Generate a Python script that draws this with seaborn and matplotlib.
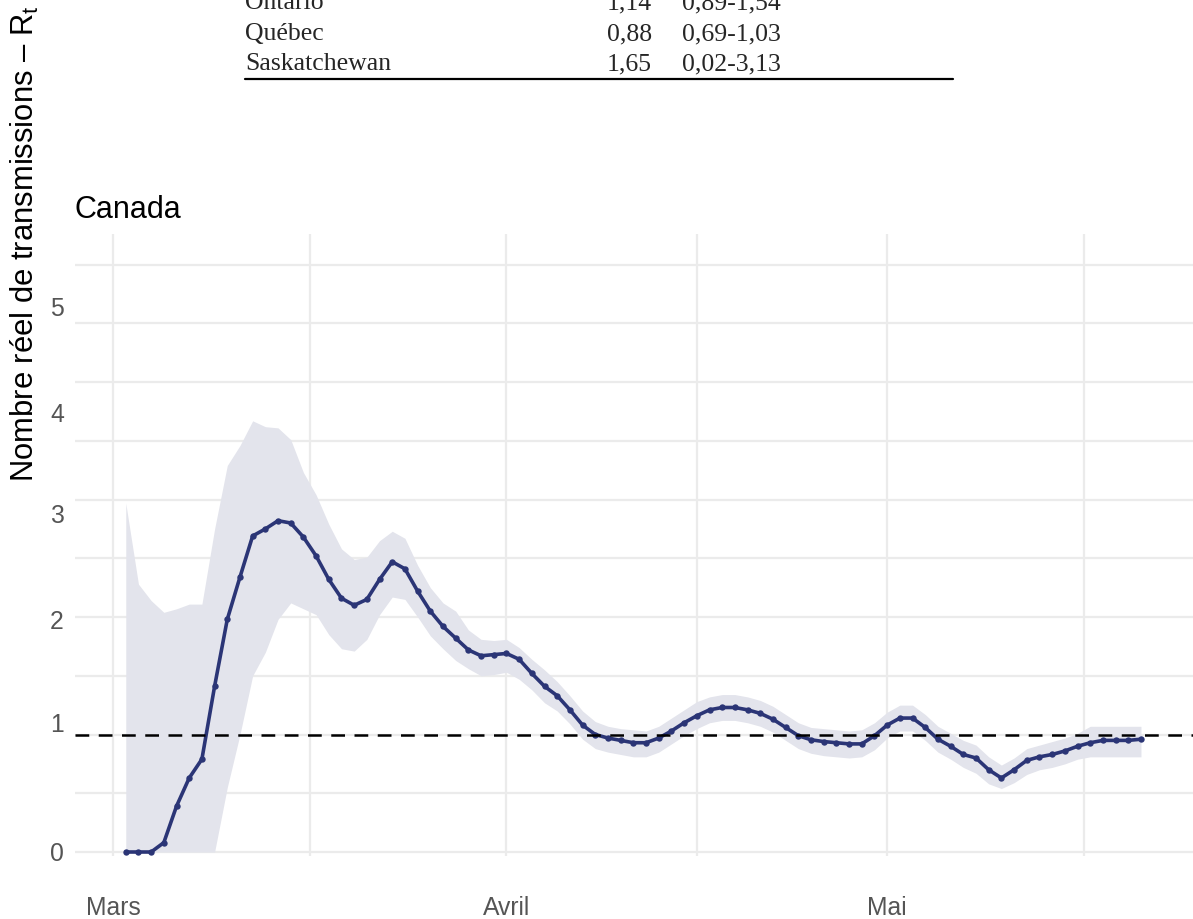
import matplotlib
matplotlib.use("Agg")
import matplotlib.pyplot as plt
import matplotlib.dates as mdates
import seaborn as sns
import pandas as pd

# ---------------- data ----------------
start_date = "2020-03-02"
rt = [0.00, 0.00, 0.00, 0.08, 0.39, 0.63, 0.79, 1.41, 1.98, 2.34,
      2.69, 2.75, 2.82, 2.80, 2.68, 2.52, 2.32, 2.16, 2.10, 2.15,
      2.32, 2.47, 2.41, 2.22, 2.05, 1.92, 1.82, 1.72, 1.67, 1.68,
      1.69, 1.64, 1.52, 1.41, 1.33, 1.21, 1.08, 1.00, 0.97, 0.95,
      0.93, 0.93, 0.97, 1.03, 1.10, 1.16, 1.21, 1.23, 1.23, 1.21,
      1.18, 1.13, 1.06, 0.99, 0.955, 0.94, 0.93, 0.92, 0.92, 0.99,
      1.08, 1.14, 1.14, 1.06, 0.96, 0.90, 0.83, 0.80, 0.70, 0.63,
      0.70, 0.78, 0.81, 0.83, 0.86, 0.90, 0.93, 0.95, 0.95, 0.95,
      0.96]
rt_upper = [2.97, 2.28, 2.14, 2.04, 2.07, 2.11, 2.11, 2.75, 3.29, 3.46,
            3.67, 3.62, 3.61, 3.51, 3.23, 3.04, 2.79, 2.58, 2.49, 2.51,
            2.65, 2.73, 2.67, 2.44, 2.25, 2.12, 2.05, 1.89, 1.81, 1.80,
            1.81, 1.74, 1.64, 1.55, 1.45, 1.33, 1.20, 1.11, 1.07, 1.05,
            1.04, 1.03, 1.07, 1.14, 1.21, 1.28, 1.32, 1.34, 1.34, 1.32,
            1.29, 1.24, 1.17, 1.10, 1.06, 1.05, 1.04, 1.03, 1.04, 1.10,
            1.19, 1.25, 1.25, 1.17, 1.07, 1.01, 0.95, 0.91, 0.81, 0.74,
            0.80, 0.88, 0.91, 0.94, 0.97, 1.01, 1.07, 1.07, 1.07, 1.07,
            1.07]
rt_lower = [0.00, 0.00, 0.00, 0.00, 0.00, 0.00, 0.00, 0.00, 0.55, 1.00,
            1.50, 1.70, 1.98, 2.12, 2.07, 2.02, 1.85, 1.73, 1.71, 1.81,
            2.02, 2.17, 2.15, 2.00, 1.84, 1.73, 1.63, 1.56, 1.50, 1.51,
            1.53, 1.47, 1.38, 1.27, 1.20, 1.09, 0.96, 0.88, 0.85, 0.83,
            0.81, 0.81, 0.85, 0.92, 0.99, 1.05, 1.10, 1.12, 1.12, 1.10,
            1.07, 1.02, 0.95, 0.88, 0.84, 0.82, 0.81, 0.80, 0.81, 0.87,
            0.97, 1.03, 1.03, 0.95, 0.85, 0.79, 0.72, 0.67, 0.58, 0.54,
            0.59, 0.66, 0.70, 0.72, 0.75, 0.79, 0.81, 0.81, 0.81, 0.81,
            0.81]

month_ticks = ["2020-03-01", "2020-04-01", "2020-05-01"]
month_labels = ["Mars", "Avril", "Mai"]
mid_month_grid = ["2020-03-16 12:00", "2020-04-16 00:00", "2020-05-16 12:00"]
ytick_labels = ["0", "1", "2", "3", "4", "5"]
ytick_label_pos = [0.01, 1.11, 1.99, 2.89, 3.75, 4.65]
ygrid = [0, 0.5, 1, 1.5, 2, 2.5, 3, 3.5, 4, 4.5, 5]
threshold = 1.0

table_names = ["Ontario", "Québec", "Saskatchewan"]
table_rt = ["1,14", "0,88", "1,65"]
table_ci = ["0,89-1,54", "0,69-1,03", "0,02-3,13"]

title = "Canada"
ylabel = "Nombre réel de transmissions – R$_\\mathrm{t}$"

# ---------------- plot ----------------
sns.set_style("white")
plt.rcParams["font.family"] = ["Liberation Sans", "DejaVu Sans"]
plt.rcParams["mathtext.fontset"] = "custom"
plt.rcParams["mathtext.rm"] = "Liberation Sans"

df = pd.DataFrame({
    "date": pd.date_range(start_date, periods=len(rt), freq="D"),
    "rt": rt, "lo": rt_lower, "hi": rt_upper,
})

W, H = 1193, 920
fig = plt.figure(figsize=(W / 100, H / 100), dpi=100)
ax = fig.add_axes([75 / W, 1 - 857 / H, 1 - 75 / W, (857 - 235) / H])

line_color = "#2b3576"
band_color = "#e3e4ec"
grid_color = "#ebebeb"

ax.fill_between(df["date"], df["lo"], df["hi"], color=band_color, lw=0, zorder=1)
sns.lineplot(data=df, x="date", y="rt", ax=ax, color=line_color, lw=2.6,
             marker="o", markersize=4.6, markeredgewidth=0, zorder=4)
ax.axhline(threshold, color="black", lw=1.8, ls=(0, (5.5, 3.8)), zorder=5)

base = mdates.date2num(pd.Timestamp("2020-03-01"))
ax.set_xlim(base - 3.0, base + 85.1)
ax.set_ylim(-0.034, 5.26)

# gridlines
for g in ygrid:
    ax.axhline(g, color=grid_color, lw=1.6, zorder=0)
for d in month_ticks + mid_month_grid:
    ax.axvline(pd.Timestamp(d), color=grid_color, lw=1.6, zorder=0)

ax.set_xticks([pd.Timestamp(d) for d in month_ticks])
ax.set_xticklabels(month_labels)
ax.set_yticks(ytick_label_pos)
ax.set_yticklabels(ytick_labels)
ax.tick_params(axis="x", length=0, pad=28, labelsize=17.8, labelcolor="#555555")
ax.tick_params(axis="y", length=0, pad=8, labelsize=17.8, labelcolor="#555555")
ax.set_xlabel("")
ax.set_ylabel("")
for s in ax.spines.values():
    s.set_visible(False)
ax.grid(False)

# title
fig.text(75 / W, 1 - 218 / H, title, fontsize=22, color="black", va="baseline", ha="left")

# y-axis label (cut at the top as in the reference)
fig.text(25 / W, 1 - 482 / H, ylabel, rotation=90, fontsize=22.3, color="black",
         va="bottom", ha="center")

# table (partially cut at the top)
serif = ["Liberation Serif", "DejaVu Serif"]
row_base = [9, 40, 70]
for name, r, ci, yb in zip(table_names, table_rt, table_ci, row_base):
    fy = 1 - yb / H
    fig.text(245 / W, fy, name, family=serif, fontsize=18.5, va="baseline", ha="left")
    fig.text(652 / W, fy, r, family=serif, fontsize=18.5, va="baseline", ha="right")
    fig.text(682 / W, fy, ci, family=serif, fontsize=18.5, va="baseline", ha="left")
fig.add_artist(plt.Line2D([245 / W, 953 / W], [1 - 79.5 / H, 1 - 79.5 / H],
                          color="black", lw=1.6, transform=fig.transFigure))

fig.savefig("out.png", dpi=100)
